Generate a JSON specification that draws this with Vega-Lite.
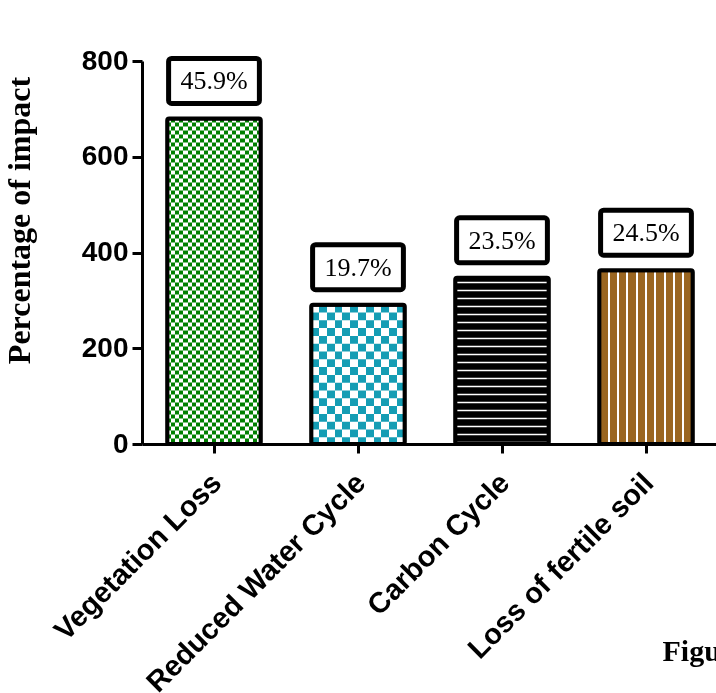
{
  "$schema": "https://vega.github.io/schema/vega-lite/v6.json",
  "width": 576,
  "height": 383,
  "autosize": {"type": "none"},
  "padding": {"left": 142, "top": 61, "right": 0, "bottom": 249},
  "background": "white",
  "config": {"view": {"stroke": null}},
  "data": {
    "values": [
      {"category": "Vegetation Loss", "value": 680, "label": "45.9%"},
      {"category": "Reduced Water Cycle", "value": 291, "label": "19.7%"},
      {"category": "Carbon Cycle", "value": 347, "label": "23.5%"},
      {"category": "Loss of fertile soil", "value": 363, "label": "24.5%"}
    ]
  },
  "encoding": {
    "x": {
      "field": "category",
      "type": "nominal",
      "sort": null,
      "scale": {"paddingInner": 0.35, "paddingOuter": 0.175},
      "axis": {
        "title": "Figure",
        "titleFont": "Liberation Serif",
        "titleFontSize": 30,
        "titleFontWeight": "bold",
        "titleColor": "black",
        "titleAlign": "left",
        "titleBaseline": "alphabetic",
        "titleX": 520,
        "titleY": 216,
        "domainColor": "black",
        "domainWidth": 3,
        "tickColor": "black",
        "tickWidth": 3,
        "tickSize": 9,
        "labelAngle": -45,
        "labelLimit": 0,
        "labelOffset": -7,
        "labelFont": "Liberation Sans",
        "labelFontSize": 29,
        "labelFontWeight": "bold",
        "labelColor": "black",
        "labelPadding": 15
      }
    },
    "y": {
      "field": "value",
      "type": "quantitative",
      "scale": {"domain": [0, 800]},
      "axis": {
        "values": [0, 200, 400, 600, 800],
        "grid": false,
        "title": "Percentage of impact",
        "titleFont": "Liberation Serif",
        "titleFontSize": 32,
        "titleFontWeight": "bold",
        "titleColor": "black",
        "titlePadding": 45,
        "titleY": 159,
        "domainColor": "black",
        "domainWidth": 3,
        "tickColor": "black",
        "tickWidth": 3,
        "tickSize": 10,
        "labelFont": "Liberation Sans",
        "labelFontSize": 28,
        "labelFontWeight": "bold",
        "labelColor": "black",
        "labelPadding": 4
      }
    }
  },
  "layer": [
    {
      "transform": [{"filter": "datum.category === 'Vegetation Loss'"}],
      "mark": {"type": "bar", "strokeWidth": 0, "fill": {"gradient": "linear", "x1": 0, "y1": 0, "x2": 1, "y2": 0, "stops": [
        {"offset": 0, "color": "black"}, {"offset": 0.0435, "color": "black"},
        {"offset": 0.0435, "color": "white"}, {"offset": 0.087, "color": "white"},
        {"offset": 0.087, "color": "black"}, {"offset": 0.1304, "color": "black"},
        {"offset": 0.1304, "color": "white"}, {"offset": 0.1739, "color": "white"},
        {"offset": 0.1739, "color": "black"}, {"offset": 0.2174, "color": "black"},
        {"offset": 0.2174, "color": "white"}, {"offset": 0.2609, "color": "white"},
        {"offset": 0.2609, "color": "black"}, {"offset": 0.3043, "color": "black"},
        {"offset": 0.3043, "color": "white"}, {"offset": 0.3478, "color": "white"},
        {"offset": 0.3478, "color": "black"}, {"offset": 0.3913, "color": "black"},
        {"offset": 0.3913, "color": "white"}, {"offset": 0.4348, "color": "white"},
        {"offset": 0.4348, "color": "black"}, {"offset": 0.4783, "color": "black"},
        {"offset": 0.4783, "color": "white"}, {"offset": 0.5217, "color": "white"},
        {"offset": 0.5217, "color": "black"}, {"offset": 0.5652, "color": "black"},
        {"offset": 0.5652, "color": "white"}, {"offset": 0.6087, "color": "white"},
        {"offset": 0.6087, "color": "black"}, {"offset": 0.6522, "color": "black"},
        {"offset": 0.6522, "color": "white"}, {"offset": 0.6957, "color": "white"},
        {"offset": 0.6957, "color": "black"}, {"offset": 0.7391, "color": "black"},
        {"offset": 0.7391, "color": "white"}, {"offset": 0.7826, "color": "white"},
        {"offset": 0.7826, "color": "black"}, {"offset": 0.8261, "color": "black"},
        {"offset": 0.8261, "color": "white"}, {"offset": 0.8696, "color": "white"},
        {"offset": 0.8696, "color": "black"}, {"offset": 0.913, "color": "black"},
        {"offset": 0.913, "color": "white"}, {"offset": 0.9565, "color": "white"},
        {"offset": 0.9565, "color": "black"}, {"offset": 1, "color": "black"}
      ]}}
    },
    {
      "transform": [{"filter": "datum.category === 'Vegetation Loss'"}],
      "mark": {"type": "rule", "color": "white", "strokeWidth": 93.6, "strokeDash": [4, 4], "blend": "difference"},
      "encoding": {"y2": {"datum": 0}}
    },
    {
      "transform": [{"filter": "datum.category === 'Vegetation Loss'"}],
      "mark": {"type": "bar", "fill": "#008000", "strokeWidth": 0, "blend": "screen"}
    },
    {
      "transform": [{"filter": "datum.category === 'Reduced Water Cycle'"}],
      "mark": {"type": "bar", "strokeWidth": 0, "fill": {"gradient": "linear", "x1": 0, "y1": 0, "x2": 1, "y2": 0, "stops": [
        {"offset": 0, "color": "black"}, {"offset": 0.0833, "color": "black"},
        {"offset": 0.0833, "color": "white"}, {"offset": 0.1667, "color": "white"},
        {"offset": 0.1667, "color": "black"}, {"offset": 0.25, "color": "black"},
        {"offset": 0.25, "color": "white"}, {"offset": 0.3333, "color": "white"},
        {"offset": 0.3333, "color": "black"}, {"offset": 0.4167, "color": "black"},
        {"offset": 0.4167, "color": "white"}, {"offset": 0.5, "color": "white"},
        {"offset": 0.5, "color": "black"}, {"offset": 0.5833, "color": "black"},
        {"offset": 0.5833, "color": "white"}, {"offset": 0.6667, "color": "white"},
        {"offset": 0.6667, "color": "black"}, {"offset": 0.75, "color": "black"},
        {"offset": 0.75, "color": "white"}, {"offset": 0.8333, "color": "white"},
        {"offset": 0.8333, "color": "black"}, {"offset": 0.9167, "color": "black"},
        {"offset": 0.9167, "color": "white"}, {"offset": 1, "color": "white"}
      ]}}
    },
    {
      "transform": [{"filter": "datum.category === 'Reduced Water Cycle'"}],
      "mark": {"type": "rule", "color": "white", "strokeWidth": 93.6, "strokeDash": [7.8, 7.8], "blend": "difference"},
      "encoding": {"y2": {"datum": 0}}
    },
    {
      "transform": [{"filter": "datum.category === 'Reduced Water Cycle'"}],
      "mark": {"type": "bar", "fill": "#149db4", "strokeWidth": 0, "blend": "screen"}
    },
    {
      "transform": [{"filter": "datum.category === 'Carbon Cycle'"}],
      "mark": {"type": "bar", "fill": "black", "strokeWidth": 0}
    },
    {
      "transform": [{"filter": "datum.category === 'Carbon Cycle'"}],
      "mark": {"type": "rule", "color": "white", "strokeWidth": 93.6, "strokeDash": [1.3, 6.7], "strokeDashOffset": 4},
      "encoding": {"y2": {"datum": 0}}
    },
    {
      "transform": [{"filter": "datum.category === 'Loss of fertile soil'"}],
      "mark": {"type": "bar", "strokeWidth": 0, "fill": {"gradient": "linear", "x1": 0, "y1": 0, "x2": 1, "y2": 0, "stops": [
        {"offset": 0, "color": "#9a6621"}, {"offset": 0.089, "color": "#9a6621"},
        {"offset": 0.089, "color": "white"}, {"offset": 0.111, "color": "white"},
        {"offset": 0.111, "color": "#9a6621"}, {"offset": 0.189, "color": "#9a6621"},
        {"offset": 0.189, "color": "white"}, {"offset": 0.211, "color": "white"},
        {"offset": 0.211, "color": "#9a6621"}, {"offset": 0.289, "color": "#9a6621"},
        {"offset": 0.289, "color": "white"}, {"offset": 0.311, "color": "white"},
        {"offset": 0.311, "color": "#9a6621"}, {"offset": 0.389, "color": "#9a6621"},
        {"offset": 0.389, "color": "white"}, {"offset": 0.411, "color": "white"},
        {"offset": 0.411, "color": "#9a6621"}, {"offset": 0.489, "color": "#9a6621"},
        {"offset": 0.489, "color": "white"}, {"offset": 0.511, "color": "white"},
        {"offset": 0.511, "color": "#9a6621"}, {"offset": 0.589, "color": "#9a6621"},
        {"offset": 0.589, "color": "white"}, {"offset": 0.611, "color": "white"},
        {"offset": 0.611, "color": "#9a6621"}, {"offset": 0.689, "color": "#9a6621"},
        {"offset": 0.689, "color": "white"}, {"offset": 0.711, "color": "white"},
        {"offset": 0.711, "color": "#9a6621"}, {"offset": 0.789, "color": "#9a6621"},
        {"offset": 0.789, "color": "white"}, {"offset": 0.811, "color": "white"},
        {"offset": 0.811, "color": "#9a6621"}, {"offset": 0.889, "color": "#9a6621"},
        {"offset": 0.889, "color": "white"}, {"offset": 0.911, "color": "white"},
        {"offset": 0.911, "color": "#9a6621"}, {"offset": 1, "color": "#9a6621"}
      ]}}
    },
    {
      "mark": {"type": "bar", "fill": "transparent", "stroke": "black", "strokeWidth": 4, "cornerRadius": 2}
    },
    {
      "mark": {"type": "bar", "fill": "white", "stroke": "black", "strokeWidth": 5, "cornerRadius": 3, "width": {"band": 0.97}, "yOffset": -60, "y2Offset": -15},
      "encoding": {"y2": {"field": "value"}}
    },
    {
      "mark": {"type": "text", "font": "Liberation Serif", "fontSize": 26, "color": "black", "baseline": "middle", "align": "center", "yOffset": -37},
      "encoding": {"text": {"field": "label"}}
    }
  ]
}
